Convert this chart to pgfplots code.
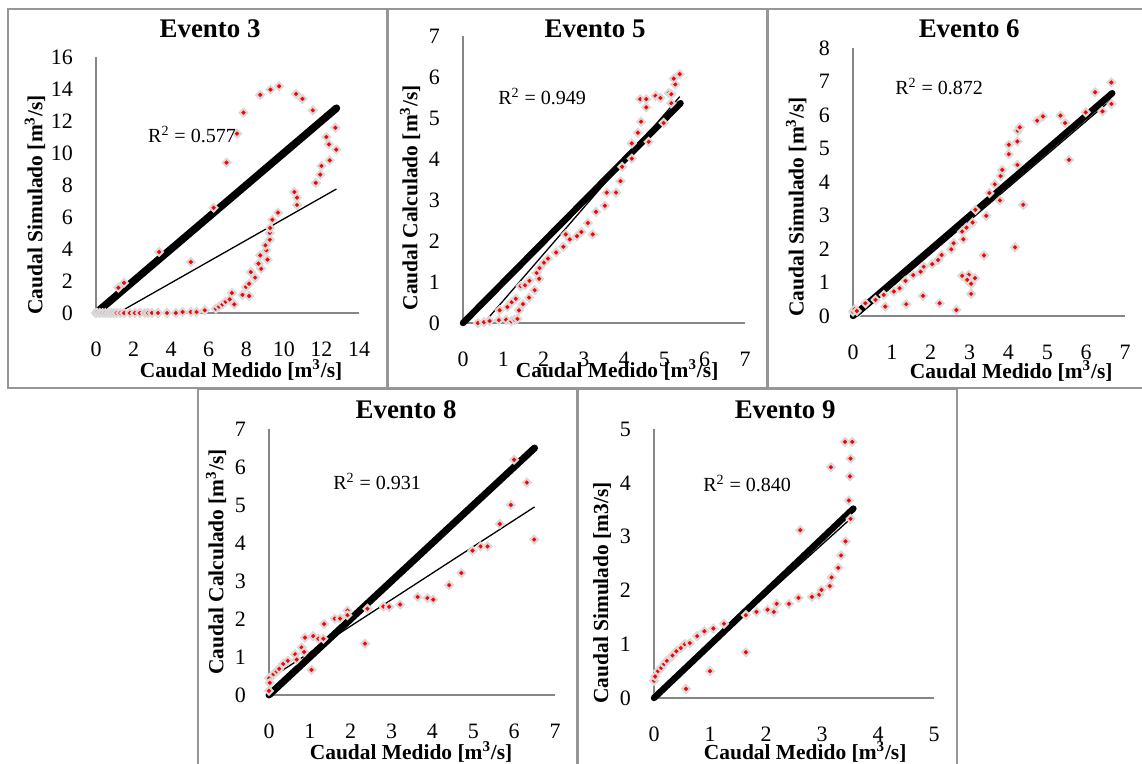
\documentclass[border=0pt]{standalone}
\usepackage{pgfplots}
\pgfplotsset{compat=1.18}
\usepackage{fontspec}
\setmainfont{Liberation Serif}

\definecolor{axgray}{RGB}{134,134,134}
\definecolor{boxgray}{RGB}{150,150,150}
\definecolor{halo}{RGB}{217,217,217}

\newcommand\ttl{\fontsize{15.3}{18}\selectfont\bfseries}
\newcommand\lab{\fontsize{12.2}{14}\selectfont\bfseries}
\newcommand\rr{\fontsize{11.4}{13}\selectfont}

\pgfplotsset{
  ev/.style={
    scale only axis, anchor=south west,
    axis lines=left, axis line style={-, draw=axgray, line width=0.035cm},
    xmin=0, ymin=0, clip=false,
    major tick length=0pt, tick style={draw=none},
    ticklabel style={font=\fontsize{12.5}{14}\selectfont},
    xticklabel style={anchor=center, yshift=-0.73cm},
    yticklabel style={xshift=-0.34cm},
    /pgf/number format/assume math mode=true,
  },
  pts/.style={only marks, mark=square*, mark size=0.055cm,
    mark options={rotate=45, fill=red, draw=halo, line width=0.04cm}},
  one/.style={no marks, black, line width=0.13cm, line cap=round},
  fit/.style={no marks, black, line width=0.026cm},
  fitw/.style={no marks, white, line width=0.07cm},
}

\begin{document}
\begin{tikzpicture}
\useasboundingbox (0,0) rectangle (22.84cm,15.28cm);
\fill[white] (0,0) rectangle (22.84cm,15.28cm);

% Evento 3
\begin{axis}[ev, at={(1.92cm,9.02cm)}, width=5.26cm, height=5.12cm,
  xmax=14, ymax=16, xtick distance=2, ytick distance=2]
\addplot[pts] coordinates {
 (0,0) (0.05,0.02) (0.2,0) (0.35,0) (0.5,0) (0.65,0) (0.8,0) (0.95,0) (1.1,0)
 (1.3,0) (1.5,0) (1.8,0) (2.07,0) (2.34,0) (2.6,0) (2.77,0) (2.98,0) (3.3,0)
 (3.78,0) (4.25,0) (4.61,0.06) (5.05,0.06) (5.35,0.06) (5.79,0.17) (6.38,0.27)
 (6.55,0.4) (6.73,0.54) (6.9,0.7) (7.12,0.85) (7.36,0.54) (7.23,1.25) (7.80,1.13)
 (8.15,1.06) (7.98,1.63) (8.15,1.83) (8.47,2.21) (8.24,2.56) (8.79,2.77)
 (8.65,3.08) (9.13,3.33) (8.74,3.60) (9.07,3.92) (9.02,4.23) (9.25,4.58)
 (9.25,5.00) (9.27,5.31) (9.39,5.83) (9.69,6.27) (10.70,6.75) (10.70,7.21)
 (10.56,7.56) (11.70,8.13) (11.94,8.65) (12.00,9.19) (12.44,9.54) (12.79,10.21)
 (12.40,10.54) (12.26,11.00) (12.74,11.58) (11.54,12.67) (10.99,13.38)
 (10.65,13.69) (9.75,14.17) (9.29,13.96) (8.74,13.63) (7.85,12.52) (7.51,11.21)
 (6.95,9.40) (6.26,6.58) (5.05,3.19) (3.36,3.81) (1.49,1.88) (1.19,1.58)
};
\addplot[fit] coordinates {(1.17,0) (12.8,7.75)};
\addplot[one, line width=0.15cm] coordinates {(0,0) (12.8,12.8)};
\end{axis}

% Evento 5
\begin{axis}[ev, at={(9.26cm,8.82cm)}, width=5.64cm, height=5.74cm,
  xmax=7, ymax=7, xtick distance=1, ytick distance=1]
\addplot[pts] coordinates {
 (0.37,0) (0.52,0.02) (0.66,0.05) (0.89,0.07) (1.07,0.08) (1.2,0.04) (1.28,0.08)
 (1.35,0.1) (1.39,0.31) (0.91,0.31) (1.10,0.39) (1.21,0.51) (1.31,0.59)
 (1.49,0.46) (1.64,0.62) (1.78,0.80) (1.43,0.90) (1.54,0.92) (1.65,1.03)
 (1.89,1.08) (1.83,1.22) (1.90,1.34) (2.01,1.47) (2.11,1.57) (2.31,1.72)
 (2.49,1.86) (2.65,2.04) (2.55,2.16) (2.83,2.12) (2.94,2.22) (3.10,2.44)
 (3.22,2.16) (3.30,2.71) (3.52,2.86) (3.57,3.18) (3.80,3.18) (3.91,3.46)
 (3.95,3.81) (4.19,4.01) (4.19,4.38) (4.34,4.64) (4.42,4.91) (4.61,4.42)
 (4.98,4.88) (4.55,5.26) (4.40,5.46) (4.55,5.46) (4.78,5.54) (4.90,5.49)
 (5.11,5.61) (5.17,5.58) (5.17,5.36) (5.27,5.82) (5.23,5.96) (5.38,6.07)
};
\addplot[fit] coordinates {(0.52,0) (5.38,5.52)};
\addplot[one] coordinates {(0,0) (5.4,5.36)};
\end{axis}

% Evento 6
\begin{axis}[ev, at={(17.06cm,8.96cm)}, width=5.44cm, height=5.36cm,
  xmax=7, ymax=8, xtick distance=1, ytick distance=1]
\addplot[pts] coordinates {
 (0,0.13) (0.04,0.2) (0.1,0.15) (0.32,0.38) (0.58,0.48) (0.83,0.28) (0.79,0.63)
 (1.05,0.73) (1.20,0.83) (1.35,1.05) (1.37,0.35) (1.55,1.22) (1.74,1.32)
 (1.82,1.47) (1.80,0.60) (2.04,1.55) (2.19,1.67) (2.28,1.82) (2.23,0.38)
 (2.53,1.99) (2.59,2.17) (2.66,0.18) (2.84,2.29) (2.81,2.52) (2.92,2.64)
 (2.81,1.20) (2.98,1.23) (2.94,1.08) (3.04,0.96) (3.14,1.13) (3.04,0.66)
 (3.08,2.79) (3.15,3.17) (3.43,2.99) (3.37,1.81) (3.51,3.67) (3.65,3.93)
 (3.78,3.45) (3.80,4.18) (3.84,4.36) (4.01,4.83) (4.01,5.11) (4.17,2.05)
 (4.23,4.51) (4.23,5.21) (4.24,5.53) (4.29,5.63) (4.38,3.32) (4.74,5.83)
 (4.89,5.96) (5.34,5.98) (5.46,5.76) (5.56,4.66) (5.99,6.08) (6.23,6.68)
 (6.42,6.11) (6.65,6.97) (6.65,6.33)
};
\addplot[fitw] coordinates {(0.12,0) (6.65,6.46)};
\addplot[fit] coordinates {(0.12,0) (6.65,6.46)};
\addplot[one] coordinates {(0,0) (6.67,6.65)};
\end{axis}

% Evento 8
\begin{axis}[ev, at={(5.38cm,1.38cm)}, width=5.72cm, height=5.32cm,
  xmax=7, ymax=7, xtick distance=1, ytick distance=1]
\addplot[pts] coordinates {
 (0,0.11) (0,0.44) (0.02,0.32) (0.11,0.55) (0.19,0.62) (0.25,0.69) (0.35,0.82)
 (0.46,0.90) (0.64,1.07) (0.68,0.93) (0.80,1.25) (0.86,1.13) (0.88,1.51)
 (1.04,0.66) (1.08,1.55) (1.21,1.48) (1.35,1.87) (1.33,1.48) (1.61,2.01)
 (1.74,2.01) (1.92,2.22) (1.92,2.10) (2.35,1.35) (2.41,2.27) (2.80,2.33)
 (2.94,2.32) (3.21,2.38) (3.64,2.58) (3.88,2.55) (4.02,2.51) (4.41,2.89)
 (4.71,3.21) (4.98,3.80) (5.18,3.91) (5.35,3.91) (5.65,4.50) (5.92,5.00)
 (6.00,6.19) (6.31,5.59) (6.49,4.09)
};
\addplot[fit] coordinates {(0,0.42) (6.5,4.95)};
\addplot[one, line width=0.14cm] coordinates {(0,0) (6.5,6.5)};
\end{axis}

% Evento 9
\begin{axis}[ev, at={(13.08cm,1.32cm)}, width=5.60cm, height=5.38cm,
  xmax=5, ymax=5, xtick distance=1, ytick distance=1]
\addplot[pts] coordinates {
 (0,0.32) (0.02,0.40) (0.07,0.50) (0.13,0.56) (0.18,0.63) (0.23,0.69)
 (0.33,0.79) (0.40,0.87) (0.48,0.93) (0.55,1.00) (0.64,1.02) (0.57,0.17)
 (0.77,1.15) (0.90,1.24) (1.00,0.50) (1.06,1.29) (1.25,1.38) (1.64,0.85)
 (1.64,1.54) (1.83,1.60) (2.03,1.64) (2.14,1.60) (2.19,1.75) (2.41,1.75)
 (2.58,1.86) (2.61,3.12) (2.82,1.88) (2.95,1.92) (2.99,2.01) (3.14,2.08)
 (3.17,2.24) (3.16,4.29) (3.29,2.42) (3.34,2.65) (3.42,2.91) (3.41,4.76)
 (3.54,4.76) (3.51,4.45) (3.50,4.12) (3.48,3.67) (3.51,3.33)
};
\addplot[fitw] coordinates {(0,0.04) (3.53,3.35)};
\addplot[fit] coordinates {(0,0.04) (3.53,3.35)};
\addplot[one] coordinates {(0,0) (3.56,3.52)};
\end{axis}

\begin{scope}[x=0.02cm,y=0.02cm]
% panel frames
\draw[boxgray, line width=0.04cm] (8,755) rectangle (387,376);
\draw[boxgray, line width=0.04cm] (388,755) rectangle (767,376);
\draw[boxgray, line width=0.04cm] (768,755) rectangle (1160,376);
\draw[boxgray, line width=0.04cm] (198,375) rectangle (577,-20);
\draw[boxgray, line width=0.04cm] (578,375) rectangle (957,-20);
% titles
\node[font=\ttl] at (210,735) {Evento 3};
\node[font=\ttl] at (595,735) {Evento 5};
\node[font=\ttl] at (969,735) {Evento 6};
\node[font=\ttl] at (406,354) {Evento 8};
\node[font=\ttl] at (785,354) {Evento 9};
% y labels
\node[font=\lab, rotate=90] at (35,559) {Caudal Simulado [m\textsuperscript{3}/s]};
\node[font=\lab, rotate=90] at (410,566) {Caudal Calculado [m\textsuperscript{3}/s]};
\node[font=\lab, rotate=90] at (796,557) {Caudal Simulado [m\textsuperscript{3}/s]};
\node[font=\lab, rotate=90] at (216,202) {Caudal Calculado [m\textsuperscript{3}/s]};
\node[font=\lab, rotate=90] at (602,171) {Caudal Simulado [m3/s]};
% x labels
\node[font=\lab] at (241,394) {Caudal Medido [m\textsuperscript{3}/s]};
\node[font=\lab] at (617,394) {Caudal Medido [m\textsuperscript{3}/s]};
\node[font=\lab] at (1011,393) {Caudal Medido [m\textsuperscript{3}/s]};
\node[font=\lab] at (411,12) {Caudal Medido [m\textsuperscript{3}/s]};
\node[font=\lab] at (805,12) {Caudal Medido [m\textsuperscript{3}/s]};
% R2
\node[font=\rr] at (192,629) {R\textsuperscript{2} = 0.577};
\node[font=\rr] at (542,667) {R\textsuperscript{2} = 0.949};
\node[font=\rr] at (939,677) {R\textsuperscript{2} = 0.872};
\node[font=\rr] at (377,282) {R\textsuperscript{2} = 0.931};
\node[font=\rr] at (747,280) {R\textsuperscript{2} = 0.840};
\end{scope}
\end{tikzpicture}
\end{document}
